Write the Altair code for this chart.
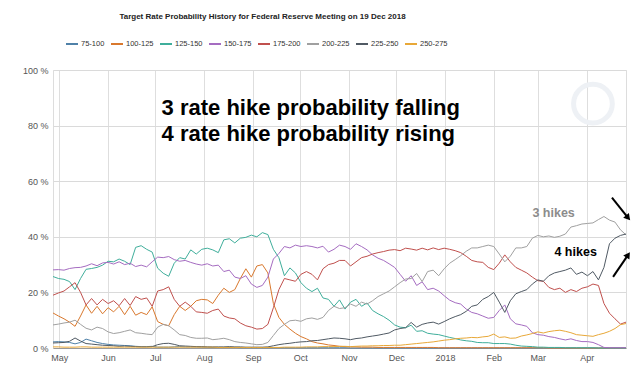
import altair as alt
import pandas as pd

# ---------------- data ----------------
series_names = ["75-100", "100-125", "125-150", "150-175", "175-200", "200-225", "225-250", "250-275"]
series_colors = ["#4f81a8", "#d9782d", "#3fae9b", "#a56cc1", "#c0504d", "#a0a0a0", "#505a64", "#e8a838"]

start_date = "2017-04-27"
n_points = 105
step = "84h"  # one reading every 3.5 days

v_75_100 = [2.2, 2.3, 2.2, 2.0, 1.5, 2.0, 3.2, 2.6, 2.0, 1.6,
            1.3, 1.1, 1.0, 0.9, 0.8, 0.6, 0.5, 0.5, 0.6, 0.3,
            0.3, 0.3, 0.4, 0.5, 0.4, 0.4, 0.4, 0.3, 0.3, 0.2,
            0.2, 0.2, 0.2, 0.2, 0.1, 0.1, 0.1, 0.1, 0.1, 0.1,
            0.1, 0.1, 0.1, 0.1, 0.1, 0.1, 0.1, 0.1, 0.1, 0.1,
            0.1, 0.1, 0.1, 0.1, 0.0, 0.0, 0.0, 0.0, 0.0, 0.0,
            0.0, 0.0, 0.0, 0.0, 0.0, 0.0, 0.0, 0.0, 0.0, 0.0,
            0.0, 0.0, 0.0, 0.0, 0.0, 0.0, 0.0, 0.0, 0.0, 0.0,
            0.0, 0.0, 0.0, 0.0, 0.0, 0.0, 0.0, 0.0, 0.0, 0.0,
            0.0, 0.0, 0.0, 0.0, 0.0, 0.0, 0.0, 0.0, 0.0, 0.0,
            0.0, 0.0, 0.0, 0.0, 0.0]

v_100_125 = [12.6, 11.5, 10.5, 9.3, 7.8, 11.5, 15.5, 12.5, 15.0, 12.3,
             14.5, 13.0, 15.0, 12.0, 15.0, 11.8, 12.8, 12.0, 14.8, 9.5,
             8.5, 8.0, 12.0, 15.0, 13.5, 15.0, 17.0, 17.5, 17.3, 16.0,
             19.0, 21.5, 20.0, 21.0, 25.0, 28.5, 25.5, 29.5, 30.0, 27.0,
             16.0, 11.0, 8.5, 6.8, 5.3, 4.1, 3.3, 2.3, 1.8, 1.5,
             1.1, 0.9, 0.6, 0.5, 0.4, 0.4, 0.3, 0.3, 0.3, 0.2,
             0.2, 0.2, 0.2, 0.2, 0.2, 0.2, 0.2, 0.2, 0.2, 0.2,
             0.1, 0.1, 0.1, 0.1, 0.1, 0.1, 0.1, 0.1, 0.1, 0.1,
             0.1, 0.1, 0.1, 0.1, 0.1, 0.1, 0.1, 0.1, 0.1, 0.1,
             0.0, 0.0, 0.0, 0.0, 0.0, 0.0, 0.0, 0.0, 0.0, 0.0,
             0.0, 0.0, 0.0, 0.0, 0.0]

v_125_150 = [25.7, 25.0, 24.7, 23.9, 21.0, 25.0, 28.3, 28.6, 29.0, 29.8,
             31.2, 31.0, 32.0, 31.2, 30.0, 36.2, 36.8, 35.5, 34.5, 28.7,
             26.9, 25.8, 30.5, 32.5, 32.0, 35.3, 33.8, 35.5, 35.9, 35.3,
             34.3, 38.9, 39.3, 37.8, 39.5, 39.8, 40.6, 40.0, 41.5, 40.8,
             35.5, 32.5, 26.0, 28.8, 27.0, 23.5, 21.5, 20.3, 21.5, 18.0,
             17.5, 15.0, 17.3, 14.0, 16.5, 17.5, 15.0, 16.2, 13.5, 12.3,
             11.3, 10.0, 8.3, 7.5, 7.3, 8.2, 6.0, 6.2, 5.3, 5.0,
             4.8, 4.3, 3.8, 3.4, 2.9, 2.6, 2.4, 2.0, 1.9, 1.9,
             1.6, 1.6, 1.6, 1.4, 1.0, 0.7, 0.6, 0.5, 0.3, 0.3,
             0.2, 0.2, 0.2, 0.1, 0.1, 0.1, 0.1, 0.1, 0.1, 0.0,
             0.0, 0.0, 0.0, 0.0, 0.0]

v_150_175 = [28.1, 28.2, 28.0, 28.6, 28.9, 29.0, 29.5, 30.3, 29.6, 30.6,
             30.8, 30.2, 31.0, 30.0, 30.5, 29.3, 29.8, 29.2, 31.0, 32.7,
             32.5, 32.9, 31.8, 31.2, 31.5, 30.8, 30.2, 29.8, 30.3, 29.5,
             29.8, 27.5, 28.0, 25.5, 25.0, 26.0, 23.0, 21.8, 22.5, 25.5,
             32.0, 34.0, 36.5, 36.0, 37.0, 36.5, 36.8, 36.5, 36.0, 36.6,
             34.5, 35.5, 37.0, 36.5, 35.5, 37.5, 36.5, 35.3, 33.5, 32.3,
             31.5, 30.3, 29.0, 26.5, 24.0, 26.0, 22.5, 23.8, 21.0, 21.5,
             20.5, 18.8, 17.2, 16.3, 15.8, 14.0, 12.8, 12.3, 11.5, 10.7,
             11.0, 13.5, 15.5, 10.5, 8.7, 8.3, 7.8, 5.5, 4.8, 4.6,
             4.1, 3.8, 3.3, 2.9, 3.3, 2.7, 2.3, 2.3, 2.0, 1.2,
             0.2, 0.1, 0.1, 0.1, 0.1]

v_175_200 = [19.0, 19.8, 20.5, 22.0, 23.5, 20.0, 15.5, 17.8, 15.5, 17.5,
             16.0, 17.0, 15.2, 17.8, 15.3, 18.5, 17.5, 18.0, 15.0, 20.5,
             21.0, 22.0, 17.5, 15.0, 16.5, 15.0, 13.0, 12.8, 12.5, 13.5,
             14.0, 11.5, 10.8, 10.5, 9.0, 8.0, 7.5, 6.8, 7.0, 8.5,
             14.5, 21.0, 25.0, 24.5, 24.0, 26.5, 27.5, 26.5, 24.5, 28.5,
             30.0, 30.5, 31.5, 31.5, 29.5, 31.0, 32.5, 33.0, 33.8, 34.3,
             34.7, 35.2, 35.4, 35.0, 35.9, 35.6, 35.2, 35.9, 35.3, 36.0,
             35.4, 35.9, 35.5, 35.0, 34.3, 33.0, 31.5, 31.0, 30.8, 29.0,
             28.2, 30.5, 33.5, 31.0, 29.0, 28.0, 27.0, 25.5, 24.2, 24.0,
             21.8, 21.0, 21.5, 20.0, 21.0, 20.3, 21.5, 22.0, 23.0, 22.5,
             16.0, 12.5, 10.5, 8.6, 9.3]

v_200_225 = [8.3, 8.6, 9.0, 9.3, 10.0, 8.5, 7.1, 6.5, 7.5, 7.0,
             5.8, 5.2, 5.5, 6.0, 6.5, 5.5, 5.3, 5.0, 4.8, 7.5,
             8.5, 8.0, 6.5, 4.8, 4.5, 3.8, 3.5, 3.5, 3.6, 3.0,
             3.2, 3.5, 3.0, 2.3, 2.0, 1.8, 1.5, 1.2, 1.3, 2.0,
             4.5, 7.0, 8.5, 9.8, 10.0, 9.6, 10.5, 10.8, 10.3, 11.0,
             13.5, 15.0, 14.2, 14.5, 15.8, 15.0, 16.5, 15.8, 17.0, 18.5,
             19.5, 20.5, 22.0, 23.5, 24.8, 25.0, 26.8, 23.9, 27.5, 28.0,
             26.0, 28.5, 30.5, 31.8, 33.2, 34.8, 36.0, 36.0, 36.5, 37.0,
             36.5, 33.8, 31.0, 33.0, 36.0, 36.0, 36.5, 39.5, 40.5, 40.0,
             40.3, 39.8, 40.2, 41.0, 43.5, 44.0, 44.6, 44.8, 45.0, 46.2,
             47.3, 46.0, 45.3, 42.5, 40.7]

v_225_250 = [1.8, 1.9, 2.0, 2.4, 3.6, 2.5, 1.6, 1.4, 1.2, 1.0,
             0.9, 0.8, 0.6, 0.7, 0.6, 0.5, 0.4, 0.4, 0.5, 1.2,
             1.6, 1.7, 1.3, 0.8, 0.7, 0.6, 0.5, 0.5, 0.4, 0.4,
             0.4, 0.4, 0.5, 0.4, 0.4, 0.3, 0.3, 0.3, 0.3, 0.4,
             0.8, 1.2, 1.5, 1.7, 2.0, 2.2, 2.3, 2.6, 2.7, 3.0,
             3.3, 3.6, 3.5, 3.3, 3.0, 3.4, 3.6, 4.0, 4.3, 4.6,
             5.0, 5.4, 6.5, 7.0, 7.3, 9.2, 7.5, 8.5, 9.0, 9.3,
             8.6, 9.5, 10.5, 11.3, 12.0, 13.2, 15.0, 15.5, 17.5, 18.5,
             20.0, 16.5, 12.8, 17.0, 19.5, 20.3, 21.0, 23.0, 24.5, 24.0,
             26.0, 27.0, 27.5, 28.0, 28.8, 26.5, 27.3, 26.0, 27.5, 24.5,
             29.0, 37.5, 39.5, 40.5, 41.0]

v_250_275 = [0.4, 0.4, 0.3, 0.3, 0.3, 0.4, 0.4, 0.3, 0.3, 0.3,
             0.3, 0.3, 0.3, 0.3, 0.3, 0.3, 0.3, 0.3, 0.3, 0.3,
             0.3, 0.3, 0.3, 0.3, 0.3, 0.3, 0.3, 0.3, 0.3, 0.3,
             0.2, 0.2, 0.2, 0.2, 0.2, 0.2, 0.2, 0.2, 0.2, 0.2,
             0.2, 0.2, 0.3, 0.3, 0.3, 0.3, 0.4, 0.4, 0.4, 0.5,
             0.5, 0.5, 0.6, 0.6, 0.5, 0.6, 0.7, 0.7, 0.8, 0.8,
             0.9, 0.9, 1.0, 1.0, 1.2, 1.4, 1.6, 1.8, 2.0, 2.2,
             2.5, 2.8, 3.0, 3.3, 3.5, 3.6, 3.8, 3.7, 4.0, 4.2,
             5.0, 3.8, 4.0, 3.5, 3.6, 4.3, 4.7, 5.2, 5.8, 5.4,
             5.9, 6.2, 6.4, 6.0, 5.5, 4.8, 4.6, 4.4, 4.2, 4.8,
             5.3, 6.0, 7.0, 8.4, 8.8]

series_values = [v_75_100, v_100_125, v_125_150, v_150_175,
                 v_175_200, v_200_225, v_225_250, v_250_275]

month_ticks = [(2017, 5), (2017, 6), (2017, 7), (2017, 8), (2017, 9), (2017, 10),
               (2017, 11), (2017, 12), (2018, 1), (2018, 2), (2018, 3), (2018, 4)]
y_ticks = [0, 20, 40, 60, 80, 100]

title_text = "Target Rate Probability History for Federal Reserve Meeting on 19 Dec 2018"
big_lines = ["3 rate hike probability falling", "4 rate hike probability rising"]
big_dates = ["2017-07-05T00:00", "2017-07-05T00:00"]
big_vals = [86.3, 76.9]

hike3_label, hike3_date, hike3_val = "3 hikes", "2018-03-11T00:00", 48.6
hike4_label, hike4_date, hike4_val = "4 hikes", "2018-03-25T00:00", 34.4

arrow_start_dates = ["2018-04-17T02:00", "2018-04-17T19:00"]
arrow_start_vals = [54.1, 25.6]
arrow_end_dates = ["2018-04-27T08:00", "2018-04-27T08:00"]
arrow_end_vals = [46.8, 33.5]
arrow_angles = [50, 304]

logo_date, logo_val = "2018-04-05T00:00", 87.9

# ---------------- tables ----------------
dates = pd.date_range(start_date, periods=n_points, freq=step)
rows = []
for name, vals in zip(series_names, series_values):
    assert len(vals) == n_points, name
    for d, v in zip(dates, vals):
        rows.append({"date": d.strftime("%Y-%m-%dT%H:%M"), "series": name, "value": v})
df = pd.DataFrame(rows)

big_df = pd.DataFrame({"date": big_dates, "value": big_vals, "label": big_lines})
h3_df = pd.DataFrame({"date": [hike3_date], "value": [hike3_val], "label": [hike3_label]})
h4_df = pd.DataFrame({"date": [hike4_date], "value": [hike4_val], "label": [hike4_label]})
arrow_df = pd.DataFrame({"date": arrow_start_dates, "value": arrow_start_vals,
                         "date2": arrow_end_dates, "value2": arrow_end_vals,
                         "ang": arrow_angles})
logo_df = pd.DataFrame({"date": [logo_date], "value": [logo_val]})

# ---------------- style ----------------
NARROW = "Liberation Sans, Arial, sans-serif"
BOLD = "Liberation Sans, Arial, sans-serif"

x_scale = alt.Scale(domain=[alt.DateTime(year=2017, month=4, date=27),
                            alt.DateTime(year=2018, month=4, date=26)])
y_scale = alt.Scale(domain=[0, 100], nice=False)

x_axis = alt.Axis(
    values=[alt.DateTime(year=y, month=m, date=1) for y, m in month_ticks],
    labelExpr="month(datum.value) == 0 ? timeFormat(datum.value, '%Y') : timeFormat(datum.value, '%b')",
    grid=True, gridColor="#dedede", gridWidth=1,
    ticks=False, domainColor="#9a9a9a", domainWidth=1,
    labelFont=NARROW, labelFontSize=9, labelColor="#555555", labelPadding=5,
    labelFlush=False, labelOverlap=False, title=None,
)
y_axis = alt.Axis(
    values=y_ticks, labelExpr="datum.value + ' %'",
    grid=True, gridColor="#dadada", gridWidth=1,
    ticks=False, domain=False,
    labelFont=NARROW, labelFontSize=9, labelColor="#555555", labelPadding=5,
    title=None,
)

X = lambda f: alt.X(f, scale=x_scale, axis=x_axis)
Y = lambda f: alt.Y(f, scale=y_scale, axis=y_axis)

logo = alt.Chart(logo_df).mark_point(
    shape="circle", filled=False, size=1500, strokeWidth=5, color="#eef1f5", opacity=1
).encode(x=X("date:T"), y=Y("value:Q"))

lines = alt.Chart(df).mark_line(strokeWidth=1).encode(
    x=X("date:T"),
    y=Y("value:Q"),
    color=alt.Color(
        "series:N",
        scale=alt.Scale(domain=series_names, range=series_colors),
        legend=alt.Legend(
            orient="none", legendX=12, legendY=-33, direction="horizontal", columns=8,
            symbolType="stroke", symbolSize=144, symbolStrokeWidth=2,
            labelFont=NARROW, labelFontSize=7.5, labelColor="#333333",
            labelOffset=2, columnPadding=2, padding=0, title=None,
        ),
    ),
)

big_text = alt.Chart(big_df).mark_text(
    align="left", baseline="middle", font=BOLD, fontSize=22, fontWeight="bold", color="#000000"
).encode(x=X("date:T"), y=Y("value:Q"), text="label:N")

h3_text = alt.Chart(h3_df).mark_text(
    align="center", baseline="middle", font=BOLD, fontSize=12.5, fontWeight="bold", color="#8c8c8c"
).encode(x=X("date:T"), y=Y("value:Q"), text="label:N")

h4_text = alt.Chart(h4_df).mark_text(
    align="center", baseline="middle", font=BOLD, fontSize=12.5, fontWeight="bold", color="#000000"
).encode(x=X("date:T"), y=Y("value:Q"), text="label:N")

arrow_lines = alt.Chart(arrow_df).mark_rule(strokeWidth=2, color="#000000").encode(
    x=X("date:T"), x2="date2:T", y=Y("value:Q"), y2="value2:Q"
)
arrow_heads = alt.Chart(arrow_df).mark_point(
    shape="triangle-right", filled=True, size=55, color="#000000", opacity=1
).encode(x=X("date2:T"), y=Y("value2:Q"), angle=alt.Angle("ang:Q", scale=None))

chart = alt.layer(
    logo, lines, big_text, h3_text, h4_text, arrow_lines, arrow_heads
).properties(
    width=573, height=278,
    padding={"left": 45, "top": 62, "right": 6, "bottom": 20},
    autosize=alt.AutoSizeParams(type="none"),
    title=alt.TitleParams(
        text=title_text, anchor="middle", frame="group", dx=-77, offset=16,
        font=NARROW, fontSize=8, fontWeight="bold", color="#222222",
    ),
).configure_view(stroke="#d9d9d9", strokeWidth=1).configure(background="#ffffff")

chart.save("out.html", embed_options={"renderer": "svg", "actions": False})
